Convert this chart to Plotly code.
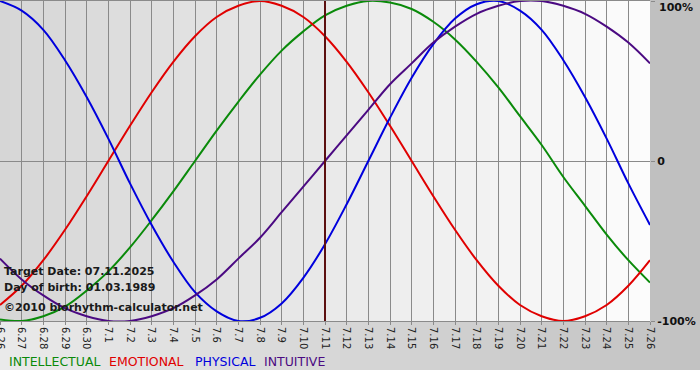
import plotly.graph_objects as go

dates = ["6.26", "6.27", "6.28", "6.29", "6.30", "7.1", "7.2", "7.3", "7.4", "7.5", "7.6",
         "7.7", "7.8", "7.9", "7.10", "7.11", "7.12", "7.13", "7.14", "7.15", "7.16",
         "7.17", "7.18", "7.19", "7.20", "7.21", "7.22", "7.23", "7.24", "7.25", "7.26"]

intellectual = [-0.99, -1.00, -0.97, -0.91, -0.81, -0.69, -0.54, -0.37, -0.19, 0.00, 0.19,
                0.37, 0.54, 0.69, 0.81, 0.91, 0.97, 1.00, 0.99, 0.95, 0.87, 0.76, 0.62,
                0.46, 0.28, 0.10, -0.10, -0.28, -0.46, -0.62, -0.76]
emotional = [-0.90, -0.78, -0.62, -0.43, -0.22, 0.00, 0.22, 0.43, 0.62, 0.78, 0.90, 0.97,
             1.00, 0.97, 0.90, 0.78, 0.62, 0.43, 0.22, 0.00, -0.22, -0.43, -0.62, -0.78,
             -0.90, -0.97, -1.00, -0.97, -0.90, -0.78, -0.62]
physical = [1.00, 0.94, 0.82, 0.63, 0.40, 0.14, -0.14, -0.40, -0.63, -0.82, -0.94, -1.00,
            -0.98, -0.89, -0.73, -0.52, -0.27, 0.00, 0.27, 0.52, 0.73, 0.89, 0.98, 1.00,
            0.94, 0.82, 0.63, 0.40, 0.14, -0.14, -0.40]
intuitive = [-0.61, -0.74, -0.84, -0.92, -0.97, -1.00, -1.00, -0.97, -0.92, -0.84, -0.74,
             -0.61, -0.48, -0.32, -0.16, 0.00, 0.16, 0.32, 0.48, 0.61, 0.74, 0.84, 0.92,
             0.97, 1.00, 1.00, 0.97, 0.92, 0.84, 0.74, 0.61]

series = [("INTELLECTUAL", intellectual, "#0a8a0a"),
          ("EMOTIONAL", emotional, "#e00000"),
          ("PHYSICAL", physical, "#0000dd"),
          ("INTUITIVE", intuitive, "#4b0a82")]

target_label = "7.11"
ytick_vals = [-1, 0, 1]
ytick_text = ["-100%", "0", "100%"]

x = list(range(len(dates)))
target_idx = dates.index(target_label)

W, H = 700, 380
ML, MR, MT, MB = 0, 50, 1, 59
PW, PH = W - ML - MR, H - MT - MB


def px_x(X):
    return (X - ML) / PW


def px_y(Y):
    return (H - MB - Y) / PH


def grey(v):
    v = int(round(v))
    return f"rgb({v},{v},{v})"


fig = go.Figure()
for name, vals, col in series:
    fig.add_trace(go.Scatter(x=x, y=vals, mode="lines", name=name,
                             line=dict(color=col, width=2, shape="spline", smoothing=1),
                             hoverinfo="skip", showlegend=False))

shapes = []
# plot-area gradient
N = 65
for i in range(N):
    v = 214 + (252 - 214) * i / (N - 1)
    shapes.append(dict(type="rect", xref="paper", yref="paper",
                       x0=i / N, x1=(i + 1) / N + 0.002, y0=0, y1=1,
                       fillcolor=grey(v), line=dict(width=0), layer="below"))
# right gray band
shapes.append(dict(type="rect", xref="paper", yref="paper",
                   x0=1, x1=px_x(W), y0=px_y(370), y1=px_y(-2),
                   fillcolor="rgb(192,192,192)", line=dict(width=0), layer="below"))
# bottom gradient band
M = 70
for i in range(M):
    v = 234 + (194 - 234) * i / (M - 1)
    shapes.append(dict(type="rect", xref="paper", yref="paper",
                       x0=px_x(i * 10), x1=px_x((i + 1) * 10 + 1), y0=px_y(370), y1=0,
                       fillcolor=grey(v), line=dict(width=0), layer="below"))
# target day line
shapes.append(dict(type="line", xref="x", yref="paper", x0=target_idx, x1=target_idx,
                   y0=0, y1=1, line=dict(color="#5c1010", width=2), layer="above"))

annotations = []
info = [("Target Date: 07.11.2025", 271), ("Day of birth: 01.03.1989", 287),
        ("©2010 biorhythm-calculator.net", 307)]
for txt, Y in info:
    annotations.append(dict(text="<b>" + txt + "</b>", xref="paper", yref="paper",
                            x=px_x(2), y=px_y(Y),
                            xanchor="left", yanchor="middle", showarrow=False,
                            font=dict(family="DejaVu Sans", size=11, color="#1a1a1a")))
legend_x = [7, 107, 193, 262]
for (name, vals, col), lx in zip(series, legend_x):
    annotations.append(dict(text=name, xref="paper", yref="paper", x=px_x(lx), y=px_y(361),
                            xanchor="left", yanchor="middle", showarrow=False,
                            font=dict(family="DejaVu Sans", size=12.5, color=col)))
# top y label sits just inside the page top, below its tick
annotations.append(dict(text="<b>" + ytick_text[2] + "</b>", xref="paper", yref="paper",
                        x=px_x(657), y=px_y(7), xanchor="left", yanchor="middle",
                        showarrow=False, xshift=0,
                        font=dict(family="DejaVu Sans", size=11, color="#111")))

shown_text = ["<b>" + ytick_text[0] + "</b>", "<b>" + ytick_text[1] + "</b>", ""]

fig.update_layout(
    width=W, height=H, margin=dict(l=ML, r=MR, t=MT, b=MB, autoexpand=False),
    paper_bgcolor="white", plot_bgcolor="rgba(0,0,0,0)",
    shapes=shapes, annotations=annotations, showlegend=False,
    xaxis=dict(range=[0, len(dates) - 1], tickmode="array", tickvals=x, ticktext=dates,
               tickangle=90, tickfont=dict(family="DejaVu Sans", size=10, color="#222"),
               showgrid=True, gridcolor="#8a8a8a", gridwidth=1,
               ticks="outside", ticklen=3, tickcolor="#8a8a8a",
               showline=True, linecolor="#8a8a8a", mirror=True, zeroline=False,
               fixedrange=True, automargin=False, ticklabeloverflow="allow"),
    yaxis=dict(range=[-1, 1], side="right", tickmode="array", tickvals=ytick_vals,
               ticktext=shown_text,
               tickfont=dict(family="DejaVu Sans", size=11, color="#111"),
               showgrid=False, zeroline=True, zerolinecolor="#8a8a8a", zerolinewidth=1,
               ticks="outside", ticklen=4, tickcolor="#8a8a8a", showline=False,
               fixedrange=True, automargin=False),
)

fig.write_html("out.html", config={"displayModeBar": False},
               post_script="document.body.style.margin='0';document.body.style.padding='0';")
